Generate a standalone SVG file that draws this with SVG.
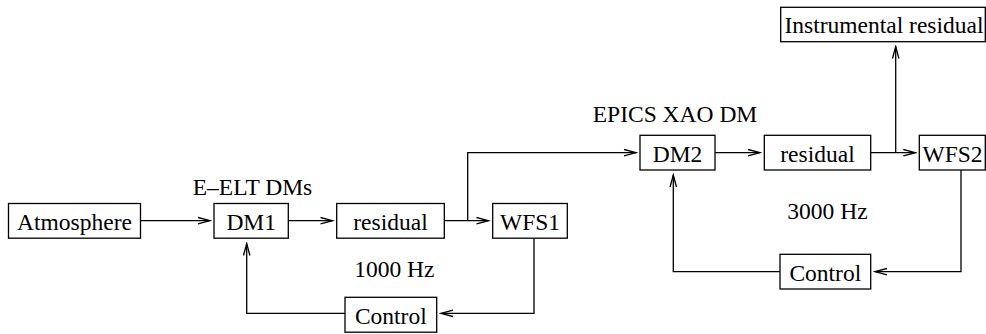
<svg xmlns="http://www.w3.org/2000/svg" width="986" height="334" viewBox="0 0 986 334">
<style>
.box{fill:#fff;stroke:#000;stroke-width:1.3}
.t{font-family:'Liberation Serif','Times New Roman',serif;font-size:23.5px;fill:#000;text-anchor:middle}
.c{fill:none;stroke:#000;stroke-width:1.3}
</style>
<defs>
<marker id="ah" markerUnits="userSpaceOnUse" markerWidth="16" markerHeight="10" viewBox="-14 -5 16 10" refX="0" refY="0" orient="auto">
<path d="M-12,-3.2 L0,0 L-12,3.2" fill="none" stroke="#000" stroke-width="1.3"/>
</marker>
</defs>
<rect width="986" height="334" fill="#fff"/>
<g id="connectors">
<path class="c" d="M140.5,220.7 H210" marker-end="url(#ah)"/>
<path class="c" d="M288.3,220.7 H332.5" marker-end="url(#ah)"/>
<path class="c" d="M444.3,220.7 H488.5" marker-end="url(#ah)"/>
<path class="c" d="M467.7,220.7 V152.7 H636" marker-end="url(#ah)"/>
<path class="c" d="M715,152.7 H760" marker-end="url(#ah)"/>
<path class="c" d="M870.7,152.7 H915.3" marker-end="url(#ah)"/>
<path class="c" d="M895.7,152.7 V46.5" marker-end="url(#ah)"/>
<path class="c" d="M534,238.3 V313.3 H441" marker-end="url(#ah)"/>
<path class="c" d="M345,313.3 H246.7 V243.5" marker-end="url(#ah)"/>
<path class="c" d="M961,170 V271.7 H875" marker-end="url(#ah)"/>
<path class="c" d="M780,271.7 H673.3 V175" marker-end="url(#ah)"/>
</g>
<g id="atmosphere"><rect class="box" x="8.5" y="203.5" width="132" height="34.7"/><text class="t" x="74.5" y="229.5">Atmosphere</text></g>
<g id="dm1"><rect class="box" x="214" y="203.5" width="74.3" height="34.7"/><text class="t" x="251.2" y="229.5">DM1</text></g>
<g id="residual1"><rect class="box" x="336.7" y="203.5" width="107.6" height="34.7"/><text class="t" x="390.5" y="229.5">residual</text></g>
<g id="wfs1"><rect class="box" x="492.7" y="203.5" width="74.6" height="34.7"/><text class="t" x="530" y="229.5">WFS1</text></g>
<g id="control1"><rect class="box" x="345" y="297.3" width="91.7" height="34.9"/><text class="t" x="390.8" y="323.5">Control</text></g>
<g id="dm2"><rect class="box" x="640" y="135.3" width="75" height="34.7"/><text class="t" x="677.5" y="161.5">DM2</text></g>
<g id="residual2"><rect class="box" x="764.3" y="135.3" width="106.4" height="34.7"/><text class="t" x="817.5" y="161.5">residual</text></g>
<g id="wfs2"><rect class="box" x="919.3" y="135.3" width="66" height="34.7"/><text class="t" x="952.5" y="161.5">WFS2</text></g>
<g id="control2"><rect class="box" x="780" y="254.3" width="90.7" height="34.7"/><text class="t" x="825.3" y="280.5">Control</text></g>
<g id="instrumental"><rect class="box" x="780.7" y="7.3" width="204.6" height="34.4"/><text class="t" x="884" y="33">Instrumental residual</text></g>
<g id="labels">
<text class="t" x="252.5" y="195">E–ELT DMs</text>
<text class="t" x="675" y="121.5">EPICS XAO DM</text>
<text class="t" x="394.3" y="276.5">1000 Hz</text>
<text class="t" x="827.5" y="219">3000 Hz</text>
</g>
</svg>
